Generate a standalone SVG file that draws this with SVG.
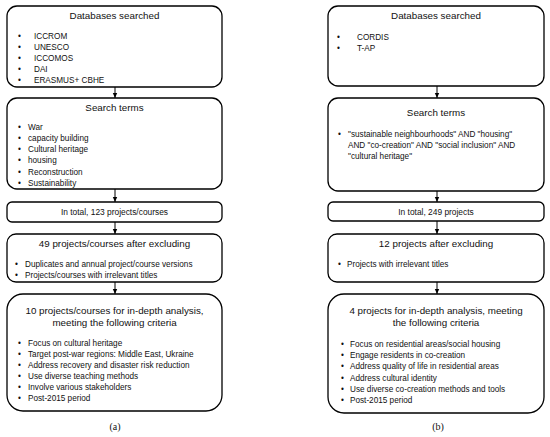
<svg xmlns="http://www.w3.org/2000/svg" width="550" height="437" viewBox="0 0 550 437">
<style>
.box{fill:#fff;stroke:#000;stroke-width:1.3}
text{font-family:"Liberation Sans",Arial,sans-serif;fill:#111}
.t{font-size:9.8px;text-anchor:middle}
.b{font-size:8.2px}
.s{font-size:8.4px;text-anchor:middle}
.c{font-size:10px;text-anchor:middle;font-family:"Liberation Serif",serif}
.ln{stroke:#000;stroke-width:1}
</style>
<defs>
<marker id="ah" markerWidth="6" markerHeight="6" refX="5" refY="3" orient="auto" markerUnits="userSpaceOnUse">
<path d="M0,0.8 L5,3 L0,5.2 Z" fill="#000"/>
</marker>
</defs>
<rect width="550" height="437" fill="#fff"/>
<g id="connectors">
<line class="ln" x1="115" y1="87" x2="115" y2="98" marker-end="url(#ah)"/>
<line class="ln" x1="115" y1="189" x2="115" y2="202" marker-end="url(#ah)"/>
<line class="ln" x1="115" y1="222" x2="115" y2="234" marker-end="url(#ah)"/>
<line class="ln" x1="115" y1="282" x2="115" y2="294" marker-end="url(#ah)"/>
<line class="ln" x1="437" y1="86" x2="437" y2="98" marker-end="url(#ah)"/>
<line class="ln" x1="437" y1="191" x2="437" y2="202" marker-end="url(#ah)"/>
<line class="ln" x1="437" y1="221" x2="437" y2="234" marker-end="url(#ah)"/>
<line class="ln" x1="437" y1="282" x2="437" y2="294" marker-end="url(#ah)"/>
</g>
<g id="a-databases">
<rect class="box" x="7" y="6" width="215" height="81" rx="10"/>
<text class="t" x="114.5" y="18.5">Databases searched</text>
<g class="b"><text x="18" y="39">•</text><text x="34" y="39">ICCROM</text>
<text x="18" y="50">•</text><text x="34" y="50">UNESCO</text>
<text x="18" y="61">•</text><text x="34" y="61">ICCOMOS</text>
<text x="18" y="72">•</text><text x="34" y="72">DAI</text>
<text x="18" y="83">•</text><text x="34" y="83">ERASMUS+ CBHE</text></g>
</g>
<g id="a-search">
<rect class="box" x="7" y="98" width="215" height="91" rx="10"/>
<text class="t" x="114.5" y="110.5">Search terms</text>
<g class="b"><text x="18" y="130">•</text><text x="28" y="130">War</text>
<text x="18" y="141">•</text><text x="28" y="141">capacity building</text>
<text x="18" y="152">•</text><text x="28" y="152">Cultural heritage</text>
<text x="18" y="163">•</text><text x="28" y="163">housing</text>
<text x="18" y="175">•</text><text x="28" y="175">Reconstruction</text>
<text x="18" y="186">•</text><text x="28" y="186">Sustainability</text></g>
</g>
<g id="a-total">
<rect class="box" x="7" y="202" width="215" height="20" rx="5"/>
<text class="s" x="114.5" y="215">In total, 123 projects/courses</text>
</g>
<g id="a-excluding">
<rect class="box" x="7" y="234" width="215" height="48" rx="9"/>
<text class="t" x="114.5" y="246.5">49 projects/courses after excluding</text>
<g class="b"><text x="15" y="267">•</text><text x="25" y="267">Duplicates and annual project/course versions</text>
<text x="15" y="278">•</text><text x="25" y="278">Projects/courses with irrelevant titles</text></g>
</g>
<g id="a-final">
<rect class="box" x="7" y="294" width="215" height="117" rx="16"/>
<text class="t" x="114.5" y="313.5">10 projects/courses for in-depth analysis,</text>
<text class="t" x="114.5" y="325.5">meeting the following criteria</text>
<g class="b"><text x="18" y="346">•</text><text x="28" y="346">Focus on cultural heritage</text>
<text x="18" y="356.5">•</text><text x="28" y="356.5">Target post-war regions: Middle East, Ukraine</text>
<text x="18" y="368">•</text><text x="28" y="368">Address recovery and disaster risk reduction</text>
<text x="18" y="379">•</text><text x="28" y="379">Use diverse teaching methods</text>
<text x="18" y="390">•</text><text x="28" y="390">Involve various stakeholders</text>
<text x="18" y="401">•</text><text x="28" y="401">Post-2015 period</text></g>
</g>
<text class="c" x="115" y="430">(a)</text>
<g id="b-databases">
<rect class="box" x="328" y="6" width="216" height="80" rx="10"/>
<text class="t" x="436" y="19">Databases searched</text>
<g class="b"><text x="337" y="40">•</text><text x="357" y="40">CORDIS</text>
<text x="337" y="51">•</text><text x="357" y="51">T-AP</text></g>
</g>
<g id="b-search">
<rect class="box" x="328" y="98" width="216" height="93" rx="10"/>
<text class="t" x="436" y="116">Search terms</text>
<g class="b"><text x="338" y="137">•</text><text x="348" y="137">"sustainable neighbourhoods" AND "housing"</text>
<text x="348" y="148">AND "co-creation" AND "social inclusion" AND</text>
<text x="348" y="159">"cultural heritage"</text></g>
</g>
<g id="b-total">
<rect class="box" x="328" y="202" width="216" height="19" rx="5"/>
<text class="s" x="436" y="214.5">In total, 249 projects</text>
</g>
<g id="b-excluding">
<rect class="box" x="328" y="234" width="216" height="48" rx="9"/>
<text class="t" x="436" y="246.5">12 projects after excluding</text>
<g class="b"><text x="338" y="267">•</text><text x="347" y="267">Projects with irrelevant titles</text></g>
</g>
<g id="b-final">
<rect class="box" x="328" y="294" width="216" height="119" rx="16"/>
<text class="t" x="436" y="313.5">4 projects for in-depth analysis, meeting</text>
<text class="t" x="436" y="325.5">the following criteria</text>
<g class="b"><text x="341" y="347">•</text><text x="350" y="347">Focus on residential areas/social housing</text>
<text x="341" y="358">•</text><text x="350" y="358">Engage residents in co-creation</text>
<text x="341" y="369">•</text><text x="350" y="369">Address quality of life in residential areas</text>
<text x="341" y="380.5">•</text><text x="350" y="380.5">Address cultural identity</text>
<text x="341" y="392">•</text><text x="350" y="392">Use diverse co-creation methods and tools</text>
<text x="341" y="403">•</text><text x="350" y="403">Post-2015 period</text></g>
</g>
<text class="c" x="438" y="430">(b)</text>
</svg>
